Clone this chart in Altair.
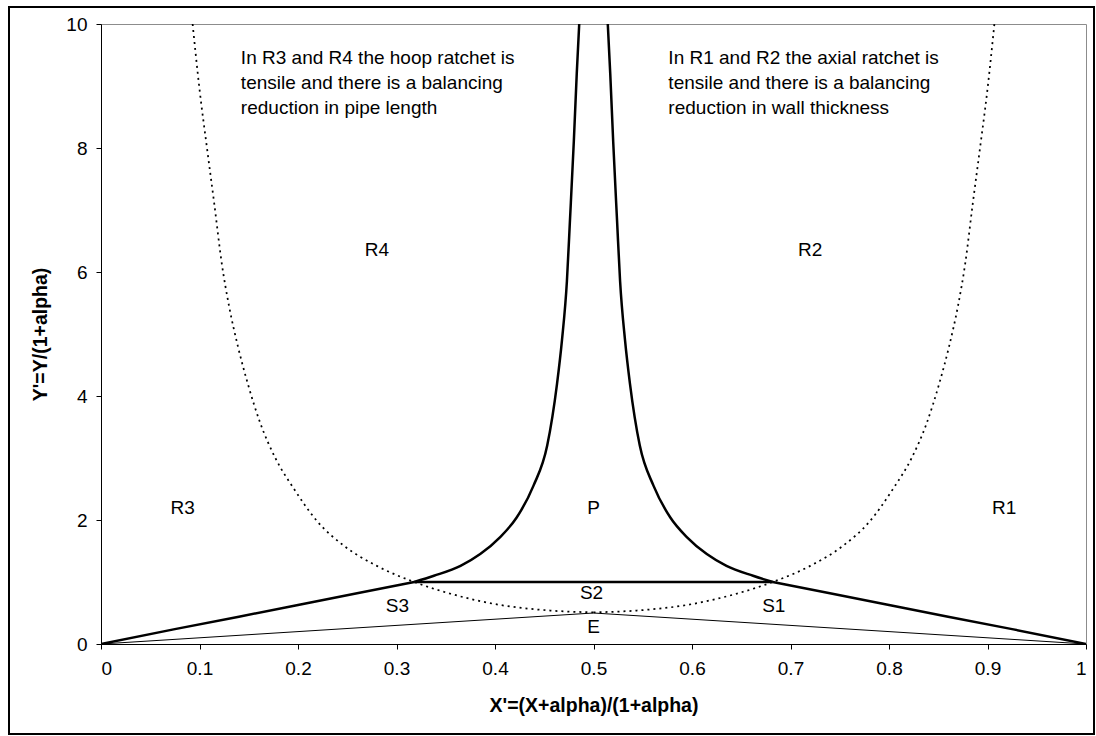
import altair as alt
import pandas as pd

# ---- data ----
dot_left_x = [0.093, 0.100, 0.108, 0.115, 0.1225, 0.130, 0.139, 0.149, 0.162, 0.177, 0.196, 0.220, 0.247, 0.280, 0.318, 0.355, 0.405, 0.456, 0.500]
dot_left_y = [10.0, 8.95, 7.95, 7.1, 6.15, 5.45, 4.8, 4.2, 3.55, 3.0, 2.5, 1.97, 1.58, 1.26, 1.0, 0.81, 0.63, 0.54, 0.51]
dot_right_x = [0.500, 0.544, 0.595, 0.645, 0.682, 0.720, 0.753, 0.780, 0.804, 0.823, 0.838, 0.851, 0.861, 0.870, 0.8775, 0.885, 0.892, 0.900, 0.907]
dot_right_y = [0.51, 0.54, 0.63, 0.81, 1.0, 1.26, 1.58, 1.97, 2.5, 3.0, 3.55, 4.2, 4.8, 5.45, 6.15, 7.1, 7.95, 8.95, 10.0]

lower_left_x = [0.0, 0.075, 0.14, 0.20, 0.26, 0.318]
lower_left_y = [0.0, 0.24, 0.44, 0.63, 0.82, 1.0]
center_left_x = [0.318, 0.338, 0.365, 0.385, 0.405, 0.422, 0.439, 0.453, 0.463, 0.468, 0.473, 0.476, 0.480, 0.483, 0.4855]
center_left_y = [1.0, 1.1, 1.26, 1.45, 1.72, 2.04, 2.55, 3.2, 4.2, 4.9, 5.85, 6.8, 8.1, 9.2, 10.0]
center_right_x = [0.5145, 0.517, 0.520, 0.524, 0.527, 0.532, 0.537, 0.547, 0.561, 0.578, 0.595, 0.615, 0.635, 0.662, 0.682]
center_right_y = [10.0, 9.2, 8.1, 6.8, 5.85, 4.9, 4.2, 3.2, 2.55, 2.04, 1.72, 1.45, 1.26, 1.1, 1.0]
lower_right_x = [0.682, 0.74, 0.80, 0.86, 0.925, 1.0]
lower_right_y = [1.0, 0.82, 0.63, 0.44, 0.24, 0.0]
s2_x = [0.318, 0.682]
s2_y = [1.0, 1.0]
e_x = [0.0, 0.5, 1.0]
e_y = [0.0, 0.5, 0.0]

region_labels = ["R4", "R2", "R3", "P", "R1", "S3", "S2", "S1", "E"]
region_x = [0.28, 0.72, 0.083, 0.5, 0.917, 0.301, 0.498, 0.683, 0.5]
region_y = [6.35, 6.35, 2.19, 2.19, 2.19, 0.62, 0.82, 0.62, 0.27]

note_texts = [
    "In R3 and R4 the hoop ratchet is\ntensile and there is a balancing\nreduction in pipe length",
    "In R1 and R2 the axial ratchet is\ntensile and there is a balancing\nreduction in wall thickness",
]
note_x = [0.142, 0.576]
note_y = [9.36, 9.36]

x_ticks = [0, 0.1, 0.2, 0.3, 0.4, 0.5, 0.6, 0.7, 0.8, 0.9, 1]
y_ticks = [0, 2, 4, 6, 8, 10]

FONT = "Liberation Sans"


def seg(xs, ys, name):
    return pd.DataFrame({"x": xs, "y": ys, "seg": name, "ord": range(len(xs))})


straight_df = pd.concat([
    seg(lower_left_x, lower_left_y, "ll"),
    seg(lower_right_x, lower_right_y, "lr"),
    seg(s2_x, s2_y, "s2"),
])
curve_df = pd.concat([
    seg(center_left_x, center_left_y, "cl"),
    seg(center_right_x, center_right_y, "cr"),
])
dot_df = pd.concat([seg(dot_left_x, dot_left_y, "dl"), seg(dot_right_x, dot_right_y, "dr")])
e_df = seg(e_x, e_y, "e")
lab_df = pd.DataFrame({"label": region_labels, "x": region_x, "y": region_y})
note_df = pd.DataFrame({"label": note_texts, "x": note_x, "y": note_y})

xs = alt.Scale(domain=[0, 1], nice=False, zero=False)
ys = alt.Scale(domain=[0, 10], nice=False, zero=False)

x_axis = alt.Axis(values=x_ticks, format=".1~f", title="X'=(X+alpha)/(1+alpha)",
                  grid=False, tickSize=5, labelPadding=10, titleY=61, titleBaseline="middle")
y_axis = alt.Axis(values=y_ticks, format="d", title="Y'=Y/(1+alpha)", grid=False, tickSize=5,
                  labelPadding=9, titleX=-61, titleY=310, titleAngle=-90,
                  titleAlign="center", titleBaseline="middle")

X = alt.X("x:Q", scale=xs, axis=x_axis)
Y = alt.Y("y:Q", scale=ys, axis=y_axis)

straight = alt.Chart(straight_df).mark_line(color="black", strokeWidth=2.5, clip=True,
                                            strokeJoin="round").encode(
    x=X, y=Y, detail="seg:N", order="ord:Q")
curved = alt.Chart(curve_df).mark_line(color="black", strokeWidth=2.5, clip=True,
                                       interpolate="monotone", strokeJoin="round").encode(
    x="x:Q", y="y:Q", detail="seg:N", order="ord:Q")
dotted = alt.Chart(dot_df).mark_line(color="black", strokeWidth=1.75, strokeDash=[2, 4],
                                     interpolate="monotone", clip=True).encode(
    x="x:Q", y="y:Q", detail="seg:N", order="ord:Q")
thin = alt.Chart(e_df).mark_line(color="black", strokeWidth=1).encode(
    x="x:Q", y="y:Q", order="ord:Q")
labels = alt.Chart(lab_df).mark_text(font=FONT, fontSize=19, color="black",
                                     align="center", baseline="middle").encode(
    x="x:Q", y="y:Q", text="label:N")
notes = alt.Chart(note_df).mark_text(font=FONT, fontSize=19, color="black", align="left",
                                     baseline="alphabetic", lineBreak="\n",
                                     lineHeight=25).encode(
    x="x:Q", y="y:Q", text="label:N")
frame = alt.Chart(pd.DataFrame({"a": [0]})).mark_rect(
    fill="white", fillOpacity=0, stroke="black", strokeWidth=2, clip=False).encode(
    x=alt.value(-92), x2=alt.value(993), y=alt.value(-17), y2=alt.value(710))

chart = alt.layer(frame, thin, dotted, straight, curved, labels, notes).properties(
    width=985, height=620,
    padding={"left": 101, "top": 24, "right": 10, "bottom": 92},
    autosize=alt.AutoSizeParams(type="none"),
    background="white",
).configure_view(
    stroke="#8c8c8c", strokeWidth=1
).configure_axis(
    domainColor="black", tickColor="black", labelColor="black", titleColor="black",
    labelFont=FONT, titleFont=FONT, labelFontSize=19, titleFontSize=19.5,
    titleFontWeight="bold", domainWidth=1, tickWidth=1
)

chart.save("out.html", embed_options={"renderer": "svg", "actions": False})
